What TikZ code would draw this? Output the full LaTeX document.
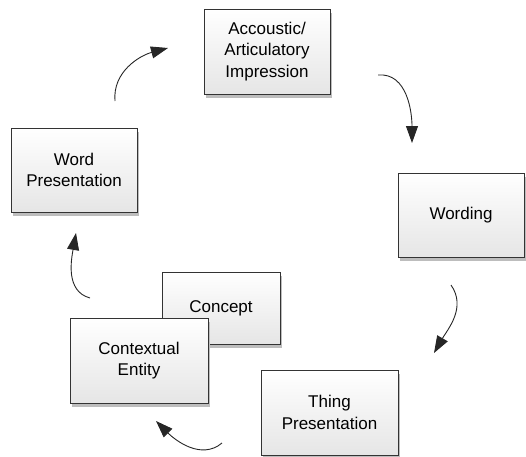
\documentclass[tikz,border=0pt]{standalone}
\usepackage{fontspec}
\setmainfont{Liberation Sans}
\usetikzlibrary{arrows.meta,shadows}
\definecolor{edgegray}{HTML}{333333}
\definecolor{shadowgray}{HTML}{BDBDBD}
\begin{document}
\begin{tikzpicture}[x=1pt,y=1pt,
  box/.style={draw=edgegray, line width=0.9pt, rectangle,
    top color=white, bottom color=black!10,
    drop shadow={shadow xshift=2pt, shadow yshift=-4pt, fill=shadowgray, opacity=1},
    align=center, inner sep=0pt,
    font=\fontsize{17}{21.5}\selectfont},
  cyc/.style={draw=black!85, line width=0.9pt,
    -{Triangle[length=17pt,width=12pt]}}]
\useasboundingbox (0,0) rectangle (526,456);

% concept sits behind the contextual entity box
\node[box, minimum width=118pt, minimum height=72pt] (concept) at (221,148) {Concept};
\node[box, minimum width=138pt, minimum height=85pt] (context) at (139,95.5) {Contextual\\Entity};

\node[box, minimum width=126pt, minimum height=85pt] (impr) at (267,404.5) {Accoustic/\\Articulatory\\Impression};
\node[box, minimum width=126pt, minimum height=84pt] (wording) at (461,241) {Wording};
\node[box, minimum width=126pt, minimum height=84pt] (wordpres) at (74,286) {Word\\Presentation};
\node[box, minimum width=137pt, minimum height=85pt] (thing) at (329.5,43.5) {Thing\\Presentation};

% free ends of the cycle arrows
\coordinate (a1s) at (115,355);  \coordinate (a1e) at (168,408);
\coordinate (a2s) at (378,381);  \coordinate (a2e) at (412,313);
\coordinate (a3s) at (451,171);  \coordinate (a3e) at (434,103);
\coordinate (a4s) at (222,13);   \coordinate (a4e) at (156,35);
\coordinate (a5s) at (90,158);   \coordinate (a5e) at (76,223);

\draw[cyc] (a1s) to[out=95, in=195] (a1e);
\draw[cyc] (a2s) to[out=5, in=90] (a2e);
\draw[cyc] (a3s) to[out=-55, in=60] (a3e);
\draw[cyc] (a4s) to[out=-140, in=-45] (a4e);
\draw[cyc] (a5s) to[out=165, in=-100] (a5e);
\end{tikzpicture}
\end{document}
